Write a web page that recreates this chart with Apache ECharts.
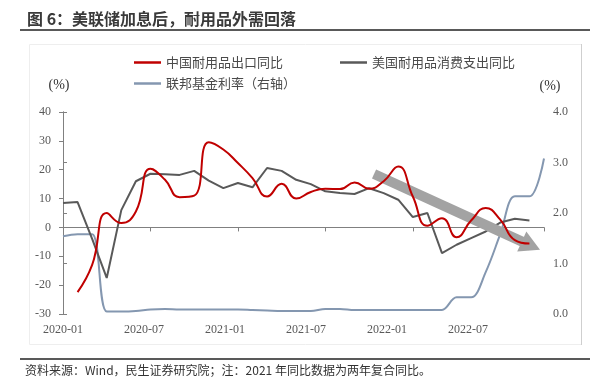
<!DOCTYPE html>
<html><head><meta charset="utf-8">
<script src="https://cdn.jsdelivr.net/npm/echarts@6/dist/echarts.min.js"></script>
<style>html,body{margin:0;padding:0;background:#fff}#c{width:602px;height:387px}</style>
</head><body><div id="c"></div>
<script>
// monthly categories (x index = position in this list)
const months = ['2020-01','2020-02','2020-03','2020-04','2020-05','2020-06','2020-07','2020-08','2020-09','2020-10','2020-11','2020-12',
  '2021-01','2021-02','2021-03','2021-04','2021-05','2021-06','2021-07','2021-08','2021-09','2021-10','2021-11','2021-12',
  '2022-01','2022-02','2022-03','2022-04','2022-05','2022-06','2022-07','2022-08','2022-09','2022-10'];
const xTickLabels = ['2020-01','2020-07','2021-01','2021-07','2022-01','2022-07'];
const seriesNames = ['中国耐用品出口同比','美国耐用品消费支出同比','联邦基金利率（右轴）'];

// China durable goods exports YoY (%)
const chinaExport = [null,-22.4,-13,5,1.5,5.5,20.3,16.5,10.5,11,29.5,27,22.3,17.1,10.7,15.1,10,12.3,13.4,13.3,15.6,13.4,16,21.1,10.7,0.6,3.2,-3.4,2.4,6.7,2.7,-4.4,-5.6,null];
// US durable goods PCE YoY (%)
const usDurable = [8.5,8.8,-4,-17.5,6,16,18.6,18.4,18.2,19.6,16.2,13.6,15.4,13.9,20.6,19.6,16.5,15,12.5,11.9,11.6,13.6,11.9,9.6,3.6,5,-8.9,-6,-3.7,-1.4,1.7,3,2.4,null];
// Fed funds rate (%, right axis)
const fedRate = [1.54,1.58,1.58,0.05,0.05,0.06,0.09,0.1,0.09,0.09,0.09,0.09,0.09,0.08,0.07,0.06,0.06,0.06,0.1,0.1,0.08,0.08,0.08,0.08,0.08,0.08,0.08,0.33,0.33,0.83,1.58,2.33,2.33,3.08];

const pairs = arr => arr.map((v, i) => [i, v]);
const serif = '"Liberation Serif","Times New Roman",serif';
const cjk = '"Noto Sans CJK SC","Noto Sans",sans-serif';
const axisColor = '#808080';
const labelColor = '#595959';

const chart = echarts.init(document.getElementById('c'));
const legendBase = {
  orient: 'horizontal', padding: 0, icon: 'rect', itemWidth: 27, itemHeight: 2.5, itemGap: 10,
  selectedMode: false,
  textStyle: { fontFamily: cjk, fontSize: 13, color: '#4a4a4a' }
};
chart.setOption({
  animation: false,
  backgroundColor: '#fff',
  title: {
    text: '图 6：美联储加息后，耐用品外需回落', left: 27, top: 11, padding: 0,
    textStyle: { fontFamily: cjk, fontSize: 16, fontWeight: 'bold', color: '#3a3a3a' }
  },
  legend: [
    Object.assign({}, legendBase, { data: [seriesNames[0]], left: 134, top: 56 }),
    Object.assign({}, legendBase, { data: [seriesNames[1]], left: 340, top: 56 }),
    Object.assign({}, legendBase, { data: [seriesNames[2]], left: 134, top: 77 })
  ],
  grid: { left: 63, right: 58, top: 112, bottom: 73, containLabel: false },
  xAxis: [
    {
      type: 'value', min: 0, max: months.length - 1, interval: 6, position: 'bottom',
      axisLine: { show: true, onZero: true, lineStyle: { color: axisColor, width: 1 } },
      axisTick: { show: true, length: 4, lineStyle: { color: axisColor } },
      axisLabel: { show: false }, splitLine: { show: false }
    },
    {
      type: 'value', min: 0, max: 35.63, interval: 6, position: 'bottom',
      axisLine: { show: false, onZero: false }, axisTick: { show: false }, splitLine: { show: false },
      axisLabel: {
        show: true, margin: 10, color: labelColor, fontFamily: serif, fontSize: 12,
        showMaxLabel: false,
        formatter: v => (Math.abs(v / 6 - Math.round(v / 6)) < 1e-6 ? (xTickLabels[Math.round(v / 6)] || '') : '')
      }
    }
  ],
  yAxis: [
    {
      type: 'value', min: -30, max: 40, interval: 10, position: 'left',
      axisLine: { show: true, lineStyle: { color: axisColor, width: 1 } },
      axisTick: { show: true, length: 4, lineStyle: { color: axisColor } },
      axisLabel: { margin: 12, color: labelColor, fontFamily: serif, fontSize: 12 },
      splitLine: { show: false }
    },
    {
      type: 'value', min: 0, max: 4, interval: 1, position: 'right',
      axisLine: { show: true, lineStyle: { color: axisColor, width: 1 } },
      axisTick: { show: true, length: 4, lineStyle: { color: axisColor } },
      axisLabel: { margin: 9, color: labelColor, fontFamily: serif, fontSize: 12, formatter: v => v.toFixed(1) },
      splitLine: { show: false }
    }
  ],
  series: [
    {
      name: 'trend', type: 'line', data: [], xAxisIndex: 0, yAxisIndex: 0, z: 1,
      markLine: {
        silent: true, animation: false, symbol: ['none', 'triangle'], symbolSize: [22, 20],
        label: { show: false },
        lineStyle: { color: '#a3a3a3', width: 10, type: 'solid', cap: 'butt' },
        emphasis: { disabled: true },
        data: [[{ coord: [21.34, 18.5] }, { coord: [32.1, -6.3] }]]
      }
    },
    {
      name: seriesNames[2], type: 'line', data: pairs(fedRate), xAxisIndex: 0, yAxisIndex: 1,
      smooth: 0.35, showSymbol: false, symbol: 'none', z: 3,
      lineStyle: { color: '#8497b0', width: 2 }, itemStyle: { color: '#8497b0' }
    },
    {
      name: seriesNames[1], type: 'line', data: pairs(usDurable), xAxisIndex: 0, yAxisIndex: 0,
      smooth: false, showSymbol: false, symbol: 'none', z: 4,
      lineStyle: { color: '#595959', width: 2 }, itemStyle: { color: '#595959' }
    },
    {
      name: seriesNames[0], type: 'line', data: pairs(chinaExport), xAxisIndex: 0, yAxisIndex: 0,
      smooth: 0.5, showSymbol: false, symbol: 'none', z: 5,
      lineStyle: { color: '#c00000', width: 2 }, itemStyle: { color: '#c00000' }
    }
  ],
  graphic: [
    { type: 'rect', silent: true, z: -10, shape: { x: 29.5, y: 44.5, width: 552, height: 300 }, style: { fill: 'none', stroke: '#eeeeee', lineWidth: 1 } },
    { type: 'line', silent: true, shape: { x1: 581.5, y1: 44, x2: 581.5, y2: 345 }, style: { stroke: '#cfcfcf', lineWidth: 1 } },
    { type: 'rect', silent: true, shape: { x: 20, y: 29, width: 570, height: 2 }, style: { fill: '#595959' } },
    { type: 'rect', silent: true, shape: { x: 20, y: 358, width: 570, height: 2 }, style: { fill: '#595959' } },
    { type: 'text', silent: true, x: 59, y: 85, style: { text: '(%)', fontFamily: serif, fontSize: 14, fill: '#333', align: 'center', verticalAlign: 'middle' } },
    { type: 'text', silent: true, x: 550, y: 86, style: { text: '(%)', fontFamily: serif, fontSize: 14, fill: '#333', align: 'center', verticalAlign: 'middle' } },
    { type: 'text', silent: true, left: 25, top: 364, style: { text: '资料来源：Wind，民生证券研究院；注：2021 年同比数据为两年复合同比。', fontFamily: cjk, fontSize: 12, fill: '#333' } }
  ]
});
</script></body></html>
